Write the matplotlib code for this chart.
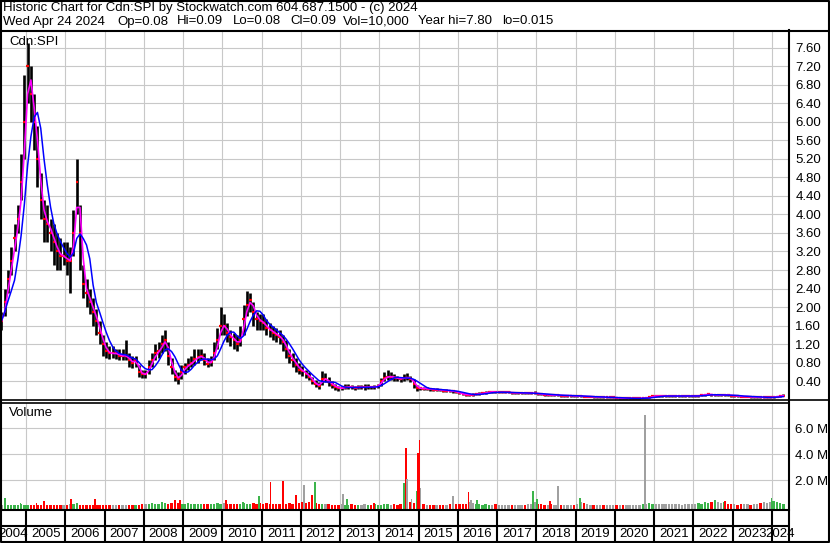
import numpy as np
import pandas as pd
import matplotlib
matplotlib.use('Agg')
import matplotlib.pyplot as plt
from matplotlib.ticker import FuncFormatter

plt.rcParams['font.family'] = ['Liberation Sans', 'DejaVu Sans']
plt.rcParams['font.size'] = 9.5

# 월봉 데이터 (2004년 5월 ~ 2024년 4월), 그림에서 읽은 값
closes = [1.7, 2.1, 2.6, 3.0, 3.5, 3.9, 4.7, 6.0,                      # 2004
          7.2, 6.6, 6.0, 5.2, 4.3, 3.9, 3.8, 3.6, 3.4, 3.2, 3.1, 3.1,  # 2005
          3.0, 3.0, 3.6, 4.7, 3.6, 2.5, 2.3, 2.1, 1.9, 1.7, 1.45, 1.2,  # 2006
          1.05, 1.0, 1.0, 1.0, 0.95, 0.95, 0.95, 0.85, 0.8, 0.85, 0.6, 0.55,  # 2007
          0.55, 0.7, 0.85, 1.0, 1.05, 1.2, 1.3, 0.95, 0.7, 0.5, 0.45, 0.6,  # 2008
          0.7, 0.75, 0.8, 0.88, 0.92, 0.95, 0.85, 0.78, 0.82, 1.0, 1.3, 1.6,  # 2009
          1.6, 1.45, 1.35, 1.3, 1.2, 1.3, 1.75, 2.05, 2.15, 1.9, 1.75, 1.7,  # 2010
          1.65, 1.55, 1.5, 1.45, 1.4, 1.35, 1.25, 1.1, 0.95, 0.85, 0.75, 0.65,  # 2011
          0.62, 0.55, 0.5, 0.4, 0.33, 0.3, 0.45, 0.45, 0.38, 0.32, 0.28, 0.25,  # 2012
          0.25, 0.27, 0.28, 0.27, 0.26, 0.27, 0.27, 0.27, 0.28, 0.27, 0.28, 0.3,  # 2013
          0.4, 0.48, 0.5, 0.5, 0.48, 0.46, 0.45, 0.48, 0.48, 0.45, 0.35, 0.25,  # 2014
          0.25, 0.24, 0.24, 0.23, 0.22, 0.22, 0.21, 0.2, 0.2, 0.19, 0.18, 0.17,  # 2015
          0.14, 0.12, 0.11, 0.11, 0.11, 0.12, 0.13, 0.14, 0.15, 0.17, 0.17, 0.16,  # 2016
          0.16, 0.16, 0.16, 0.16, 0.15, 0.15, 0.15, 0.15, 0.14, 0.14, 0.14, 0.14,  # 2017
          0.13, 0.12, 0.11, 0.11, 0.1, 0.1, 0.1, 0.09, 0.09, 0.09, 0.09, 0.08,  # 2018
          0.08, 0.08, 0.07, 0.07, 0.07, 0.06, 0.06, 0.06, 0.05, 0.05, 0.05, 0.05,  # 2019
          0.04, 0.04, 0.03, 0.03, 0.03, 0.03, 0.03, 0.03, 0.04, 0.04, 0.05, 0.08,  # 2020
          0.08, 0.08, 0.08, 0.08, 0.08, 0.08, 0.08, 0.08, 0.08, 0.08, 0.08, 0.08,  # 2021
          0.08, 0.09, 0.1, 0.11, 0.12, 0.11, 0.1, 0.1, 0.1, 0.11, 0.1, 0.09,  # 2022
          0.09, 0.08, 0.07, 0.07, 0.07, 0.06, 0.06, 0.06, 0.05, 0.05, 0.05, 0.05,  # 2023
          0.06, 0.07, 0.08, 0.09]                                         # 2024

highs = [1.9, 2.4, 2.8, 3.3, 3.8, 4.2, 5.3, 7.0,
         7.7, 7.2, 6.6, 5.9, 4.9, 4.3, 4.2, 3.9, 3.8, 3.6, 3.5, 3.4,
         3.4, 3.3, 4.1, 5.2, 4.2, 2.9, 2.6, 2.4, 2.2, 1.95, 1.7, 1.4,
         1.25, 1.15, 1.15, 1.1, 1.1, 1.1, 1.3, 1.0, 0.95, 0.95, 0.75, 0.65,
         0.65, 0.85, 1.0, 1.2, 1.25, 1.4, 1.5, 1.25, 0.9, 0.65, 0.6, 0.75,
         0.8, 0.9, 0.95, 1.1, 1.1, 1.1, 1.0, 0.9, 0.95, 1.25, 1.55, 2.0,
         1.85, 1.65, 1.5, 1.45, 1.4, 1.6, 2.05, 2.35, 2.3, 2.1, 1.9, 1.85,
         1.85, 1.75, 1.65, 1.6, 1.55, 1.5, 1.4, 1.3, 1.1, 1.0, 0.9, 0.8,
         0.72, 0.65, 0.6, 0.5, 0.42, 0.38, 0.62, 0.58, 0.5, 0.4, 0.35, 0.3,
         0.3, 0.33, 0.35, 0.32, 0.3, 0.32, 0.31, 0.33, 0.35, 0.3, 0.32, 0.35,
         0.48, 0.6, 0.65, 0.6, 0.55, 0.52, 0.5, 0.55, 0.58, 0.52, 0.45, 0.32,
         0.28, 0.27, 0.27, 0.26, 0.25, 0.25, 0.24, 0.23, 0.23, 0.22, 0.21, 0.2,
         0.17, 0.15, 0.14, 0.13, 0.14, 0.15, 0.16, 0.17, 0.19, 0.2, 0.19, 0.18,
         0.18, 0.18, 0.2, 0.18, 0.17, 0.17, 0.17, 0.17, 0.16, 0.16, 0.16, 0.2,
         0.15, 0.14, 0.13, 0.13, 0.12, 0.12, 0.12, 0.11, 0.11, 0.11, 0.11, 0.1,
         0.1, 0.1, 0.09, 0.09, 0.09, 0.08, 0.08, 0.08, 0.07, 0.07, 0.07, 0.07,
         0.06, 0.06, 0.05, 0.05, 0.05, 0.05, 0.05, 0.05, 0.06, 0.06, 0.07, 0.1,
         0.1, 0.1, 0.1, 0.1, 0.1, 0.11, 0.1, 0.1, 0.1, 0.1, 0.1, 0.1,
         0.1, 0.11, 0.12, 0.13, 0.14, 0.13, 0.12, 0.12, 0.12, 0.13, 0.12, 0.11,
         0.11, 0.1, 0.09, 0.09, 0.09, 0.08, 0.08, 0.08, 0.07, 0.07, 0.07, 0.07,
         0.08, 0.09, 0.1, 0.12]

lows = [1.5, 1.8, 2.3, 2.7, 3.2, 3.6, 4.3, 5.2,
        6.4, 6.0, 5.4, 4.6, 3.9, 3.4, 3.4, 3.2, 2.9, 2.8, 2.8, 2.9,
        2.7, 2.3, 3.1, 4.0, 2.8, 2.2, 2.0, 1.85, 1.6, 1.4, 1.2, 0.95,
        0.9, 0.88, 0.9, 0.88, 0.85, 0.85, 0.85, 0.7, 0.68, 0.7, 0.5, 0.47,
        0.47, 0.55, 0.7, 0.85, 0.9, 1.0, 1.05, 0.75, 0.55, 0.4, 0.35, 0.45,
        0.55, 0.65, 0.7, 0.75, 0.8, 0.85, 0.75, 0.7, 0.72, 0.85, 1.1, 1.4,
        1.4, 1.25, 1.15, 1.1, 1.05, 1.15, 1.4, 1.8, 1.9, 1.6, 1.5, 1.5,
        1.5, 1.4, 1.35, 1.3, 1.25, 1.2, 1.05, 0.9, 0.8, 0.7, 0.6, 0.55,
        0.52, 0.47, 0.42, 0.33, 0.27, 0.24, 0.32, 0.38, 0.3, 0.26, 0.22, 0.2,
        0.21, 0.23, 0.24, 0.23, 0.22, 0.23, 0.23, 0.22, 0.24, 0.23, 0.24, 0.26,
        0.3, 0.4, 0.42, 0.42, 0.4, 0.4, 0.38, 0.4, 0.42, 0.38, 0.25, 0.18,
        0.22, 0.21, 0.21, 0.2, 0.19, 0.19, 0.18, 0.17, 0.17, 0.16, 0.15, 0.14,
        0.12, 0.1, 0.09, 0.09, 0.09, 0.1, 0.11, 0.12, 0.13, 0.15, 0.15, 0.14,
        0.14, 0.14, 0.14, 0.14, 0.13, 0.13, 0.13, 0.13, 0.12, 0.12, 0.12, 0.12,
        0.11, 0.1, 0.09, 0.09, 0.08, 0.08, 0.08, 0.07, 0.07, 0.07, 0.07, 0.06,
        0.06, 0.06, 0.05, 0.05, 0.05, 0.04, 0.04, 0.04, 0.03, 0.03, 0.03, 0.03,
        0.03, 0.02, 0.015, 0.02, 0.02, 0.02, 0.02, 0.02, 0.03, 0.03, 0.04, 0.06,
        0.06, 0.06, 0.06, 0.06, 0.06, 0.06, 0.06, 0.06, 0.06, 0.06, 0.06, 0.06,
        0.06, 0.07, 0.08, 0.09, 0.1, 0.09, 0.08, 0.08, 0.08, 0.09, 0.08, 0.07,
        0.07, 0.06, 0.05, 0.05, 0.05, 0.04, 0.04, 0.04, 0.03, 0.03, 0.03, 0.03,
        0.04, 0.05, 0.06, 0.08]

# 월별 기본 거래량 (백만주)
base_vol = [0.12, 0.1, 0.08, 0.1, 0.12, 0.1, 0.15, 0.12,
            0.1, 0.12, 0.08, 0.1, 0.1, 0.12, 0.08, 0.1, 0.1, 0.12, 0.08, 0.1,
            0.12, 0.15, 0.2, 0.15, 0.1, 0.1, 0.08, 0.1, 0.1, 0.1, 0.08, 0.1,
            0.1, 0.08, 0.1, 0.08, 0.1, 0.12, 0.1, 0.1, 0.08, 0.1, 0.12, 0.15,
            0.2, 0.15, 0.25, 0.2, 0.2, 0.3, 0.25, 0.2, 0.25, 0.3, 0.25, 0.2,
            0.2, 0.25, 0.15, 0.2, 0.2, 0.15, 0.15, 0.2, 0.15, 0.2, 0.25, 0.2,
            0.25, 0.2, 0.15, 0.2, 0.15, 0.2, 0.25, 0.2, 0.2, 0.25, 0.2, 0.25,
            0.2, 0.25, 0.2, 0.15, 0.2, 0.15, 0.15, 0.2, 0.25, 0.2, 0.3, 0.25,
            0.3, 0.25, 0.3, 0.2, 0.25, 0.2, 0.2, 0.15, 0.15, 0.1, 0.1, 0.12,
            0.15, 0.12, 0.1, 0.15, 0.1, 0.12, 0.1, 0.15, 0.12, 0.1, 0.15, 0.1,
            0.12, 0.2, 0.15, 0.1, 0.15, 0.12, 0.2, 0.3, 0.4, 0.3, 0.25, 0.3,
            0.25, 0.15, 0.1, 0.1, 0.08, 0.1, 0.08, 0.1, 0.12, 0.15, 0.2, 0.15,
            0.2, 0.15, 0.2, 0.3, 0.25, 0.2, 0.15, 0.1, 0.15, 0.1, 0.12, 0.15,
            0.1, 0.08, 0.1, 0.12, 0.1, 0.08, 0.1, 0.12, 0.1, 0.15, 0.2, 0.3,
            0.2, 0.15, 0.1, 0.1, 0.15, 0.1, 0.08, 0.1, 0.08, 0.1, 0.12, 0.1,
            0.15, 0.3, 0.25, 0.15, 0.1, 0.08, 0.1, 0.08, 0.1, 0.08, 0.1, 0.1,
            0.08, 0.1, 0.1, 0.08, 0.1, 0.12, 0.1, 0.1, 0.15, 0.2, 0.25, 0.2,
            0.2, 0.15, 0.15, 0.2, 0.15, 0.15, 0.2, 0.15, 0.1, 0.15, 0.2, 0.15,
            0.2, 0.25, 0.2, 0.3, 0.25, 0.3, 0.35, 0.3, 0.25, 0.3, 0.2, 0.15,
            0.15, 0.12, 0.15, 0.2, 0.15, 0.12, 0.15, 0.2, 0.25, 0.3, 0.25, 0.35,
            0.4, 0.3, 0.25, 0.2]

# 눈에 띄는 거래량 막대 (연도 소수, 백만주, 색)
spike_t = [2004.46, 2004.86, 2005.27, 2005.46, 2006.14, 2006.29, 2006.76,
           2008.79, 2008.92, 2010.09, 2010.53, 2010.93, 2011.23, 2011.54,
           2011.87, 2012.08, 2012.28, 2012.37, 2013.07, 2013.17, 2013.86,
           2014.63, 2014.67, 2014.71, 2014.82, 2014.95, 2014.99, 2015.02,
           2015.05, 2015.88, 2016.27, 2016.33, 2016.48, 2017.92, 2018.01,
           2018.35, 2018.56, 2019.11, 2020.77, 2022.55, 2022.81, 2023.99]
spike_vol = [0.67, 0.23, 0.23, 0.41, 0.6, 0.23, 0.6,
             0.5, 0.5, 0.5, 0.35, 0.77, 1.85, 1.95,
             0.87, 1.64, 0.87, 1.85, 0.92, 0.56, 0.25,
             1.8, 4.46, 2.1, 0.6, 1.2, 4.1, 5.1,
             1.4, 0.8, 1.1, 0.5, 0.5, 1.18, 0.56,
             0.4, 1.56, 0.64, 7.0, 0.5, 0.4, 0.64]
spike_col = ['g', 'g', 'r', 'r', 'r', 'g', 'r',
             'r', 'r', 'r', 'g', 'g', 'r', 'r',
             'r', 'k', 'r', 'g', 'k', 'g', 'r',
             'g', 'r', 'k', 'k', 'g', 'r', 'r',
             'k', 'k', 'r', 'k', 'g', 'g', 'g',
             'r', 'k', 'g', 'k', 'g', 'r', 'g']

price_ticks = [0.4, 0.8, 1.2, 1.6, 2.0, 2.4, 2.8, 3.2, 3.6, 4.0,
               4.4, 4.8, 5.2, 5.6, 6.0, 6.4, 6.8, 7.2, 7.6]
vol_ticks = [2, 4, 6]
years = list(range(2004, 2025))

title = 'Historic Chart for Cdn:SPI by Stockwatch.com 604.687.1500 - (c) 2024'
quote_fields = ['Wed Apr 24 2024', 'Op=0.08', 'Hi=0.09', 'Lo=0.08', 'Cl=0.09',
                'Vol=10,000', 'Year hi=7.80', 'lo=0.015']
quote_x = [3, 117, 177, 233, 290, 343, 418, 502]

RED, GREEN, GRAY = '#ff0000', '#3cb44b', '#a0a0a0'
cmap = {'r': RED, 'g': GREEN, 'k': GRAY}
GRID = '#c8c8c8'

t = 2004 + (np.arange(len(closes)) + 4.5) / 12
df = pd.DataFrame({'close': closes, 'high': highs, 'low': lows, 'vol': base_vol}, index=t)
ma_short = df['close'].rolling(2, min_periods=1).mean()
ma_long = df['close'].rolling(5, min_periods=1).mean()

W, H = 830, 543
fig = plt.figure(figsize=(W / 100, H / 100), dpi=100)

def box(l, top, r, b):
    return [l / W, 1 - b / H, (r - l) / W, (b - top) / H]

x0 = 2005 + (1 - 26) / 39.26
x1 = 2005 + (789 - 26) / 39.26

# 가격 차트
ax = fig.add_axes(box(1, 31, 789, 401))
ax.set_xlim(x0, x1)
ax.set_ylim(-0.026, 7.957)
ax.set_xticks(years[1:])
ax.set_yticks(price_ticks)
ax.grid(True, color=GRID, lw=0.8)
ax.set_axisbelow(True)
ax.tick_params(axis='x', length=0, labelbottom=False)
ax.tick_params(axis='y', length=0, left=False, labelleft=False, labelright=True, pad=4.5)
ax.yaxis.set_major_formatter(FuncFormatter(lambda v, _: f'{v:.2f}'))
for s in ax.spines.values():
    s.set_visible(False)

ax.vlines(df.index, df['low'], df['high'], colors='black', lw=1.9, zorder=2)
ax.hlines(df['close'], df.index - 0.03, df.index + 0.045, colors=RED, lw=1.6, zorder=3)
ax.plot(df.index, ma_short, color='#ff00ff', lw=1.2, zorder=4)
ax.plot(df.index, ma_long, color='#0000ff', lw=1.1, zorder=5)

# 거래량 차트
axv = fig.add_axes(box(1, 403, 789, 510))
axv.set_xlim(x0, x1)
vlo = -0.28
axv.set_ylim(vlo, 7.95)
axv.set_xticks(years[1:])
axv.set_yticks(vol_ticks)
axv.grid(True, color=GRID, lw=0.8)
axv.set_axisbelow(True)
axv.tick_params(axis='x', length=0, labelbottom=False)
axv.tick_params(axis='y', length=0, left=False, labelleft=False, labelright=True, pad=4.5)
axv.yaxis.set_major_formatter(FuncFormatter(lambda v, _: f'{v:.1f} M'))
for s in axv.spines.values():
    s.set_visible(False)

diff = df['close'].diff().fillna(0)
base_cols = [GREEN if d > 0 else (RED if d < 0 else GRAY) for d in diff]
axv.bar(df.index, df['vol'] - vlo, bottom=vlo, width=0.06, color=base_cols, zorder=2)
axv.bar(spike_t, np.array(spike_vol) - vlo, bottom=vlo, width=0.045,
        color=[cmap[c] for c in spike_col], zorder=3)

# 날짜 축
axd = fig.add_axes(box(1, 510, 789, 542))
axd.set_xlim(x0, x1)
axd.set_ylim(542, 510)
axd.axis('off')
for y in years[1:]:
    axd.axvline(y, color='black', lw=1.5)
axd.axhline(525.5, color='black', lw=1.5)
for y in years:
    a, b = max(y, x0), min(y + 1, x1)
    axd.text((a + b) / 2, 534, str(y), ha='center', va='center', clip_on=False)

# 테두리와 머리글
ov = fig.add_axes([0, 0, 1, 1], zorder=10)
ov.set_xlim(0, W)
ov.set_ylim(H, 0)
ov.axis('off')
ov.patch.set_alpha(0)
lw = 1.5
ov.plot([0.7, 829.3, 829.3, 0.7, 0.7], [0.7, 0.7, 541.8, 541.8, 0.7], color='black', lw=lw)
ov.plot([0, W], [30.5, 30.5], color='black', lw=lw)
ov.plot([0, W], [400.3, 400.3], color='black', lw=1.2)
ov.plot([0, 789], [402.8, 402.8], color='black', lw=1.2)
ov.plot([0, 789], [509.5, 509.5], color='black', lw=lw)
ov.plot([788.5, 788.5], [30, 542], color='black', lw=lw)

ov.text(3, 8.5, title, ha='left', va='center')
for s, xp in zip(quote_fields, quote_x):
    ov.text(xp, 21.5, s, ha='left', va='center')
ov.text(9, 42, 'Cdn:SPI', ha='left', va='center')
ov.text(9, 413, 'Volume', ha='left', va='center')

fig.savefig('out.png', dpi=100)
